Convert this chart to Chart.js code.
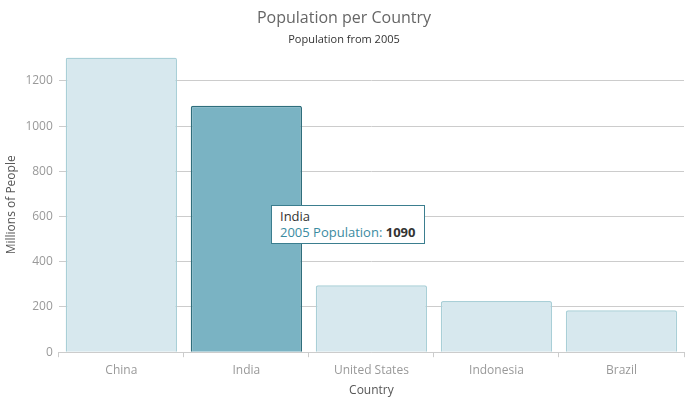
<!DOCTYPE html>
<html>
<head>
<meta charset="utf-8">
<script src="https://cdn.jsdelivr.net/npm/chart.js@4"></script>
<style>
  html, body { margin: 0; padding: 0; background: #fff; }
  #wrap { position: relative; width: 690px; height: 398px; }
  #tip {
    position: absolute; display: none; background: #fff;
    border: 1px solid #3b7e8f; padding: 2px 9px 3px 8px;
    font: 13px "Open Sans", sans-serif; line-height: 16px; color: #333;
    white-space: nowrap; pointer-events: none;
  }
  #tip .lbl { color: #3a8ba1; }
  #tip b { color: #333; }
</style>
</head>
<body>
<div id="wrap">
  <canvas id="popChart" width="690" height="398"></canvas>
  <div id="tip"></div>
</div>
<script>
const countries = ['China', 'India', 'United States', 'Indonesia', 'Brazil'];
const population2005 = [1304, 1090, 296, 226, 186];
const yTicks = [0, 200, 400, 600, 800, 1000, 1200];
const seriesName = '2005 Population';

Chart.Tooltip.positioners.cursor = function (items, eventPosition) {
  return eventPosition;
};

// tooltip en html pour avoir le label en couleur et la valeur en gras
const externalTip = (context) => {
  const tip = document.getElementById('tip');
  const t = context.tooltip;
  if (t.opacity === 0 || !t.dataPoints || !t.dataPoints.length) {
    tip.style.display = 'none';
    return;
  }
  const p = t.dataPoints[0];
  tip.innerHTML = `${p.label}<br><span class="lbl">${p.dataset.label}:</span> <b>${p.raw}</b>`;
  tip.style.left = (t.caretX + 14) + 'px';
  tip.style.top = (t.caretY + 15) + 'px';
  tip.style.display = 'block';
};

const chart = new Chart(document.getElementById('popChart'), {
  type: 'bar',
  data: {
    labels: countries,
    datasets: [{
      label: seriesName,
      data: population2005,
      backgroundColor: '#d7e8ee',
      borderColor: '#a9cfd7',
      hoverBackgroundColor: '#7ab3c3',
      hoverBorderColor: '#2f6e7c',
      borderWidth: 1.5,
      hoverBorderWidth: 1.5,
      borderRadius: 2,
      borderSkipped: 'bottom',
      barPercentage: 0.89,
      categoryPercentage: 1
    }]
  },
  options: {
    responsive: false,
    animation: false,
    layout: { padding: { left: 4, right: 6, top: 0, bottom: 0 } },
    plugins: {
      legend: { display: false },
      title: {
        display: true,
        text: 'Population per Country',
        color: '#666',
        font: { family: 'Open Sans', size: 16, weight: 'normal' },
        padding: { top: 9, bottom: 2 }
      },
      subtitle: {
        display: true,
        text: 'Population from 2005',
        color: '#333',
        font: { family: 'Open Sans', size: 11 },
        padding: { top: 3, bottom: 11 }
      },
      tooltip: {
        enabled: false,
        position: 'cursor',
        external: externalTip
      }
    },
    scales: {
      x: {
        grid: { display: true, drawOnChartArea: false, offset: true, color: '#ccc', tickLength: 5 },
        border: { color: '#ccc' },
        ticks: { color: '#999', font: { family: 'Open Sans', size: 12 }, padding: 6 },
        title: {
          display: true, text: 'Country', color: '#555',
          font: { family: 'Open Sans', size: 12 }, padding: { top: 0, bottom: 0 }
        }
      },
      y: {
        min: 0,
        max: 1304,
        afterBuildTicks: (scale) => { scale.ticks = yTicks.map(v => ({ value: v })); },
        grid: { color: '#ccc', drawTicks: false },
        border: { display: false },
        ticks: {
          color: '#999', font: { family: 'Open Sans', size: 12 }, padding: 6,
          callback: (v) => String(v)
        },
        title: {
          display: true, text: 'Millions of People', color: '#555',
          font: { family: 'Open Sans', size: 12 }, padding: { top: 0, bottom: 1 }
        }
      }
    }
  }
});

// barre de l'Inde survolée comme dans la capture
chart.setActiveElements([{ datasetIndex: 0, index: 1 }]);
chart.tooltip.setActiveElements([{ datasetIndex: 0, index: 1 }], { x: 257, y: 190 });
chart.update();
</script>
</body>
</html>
